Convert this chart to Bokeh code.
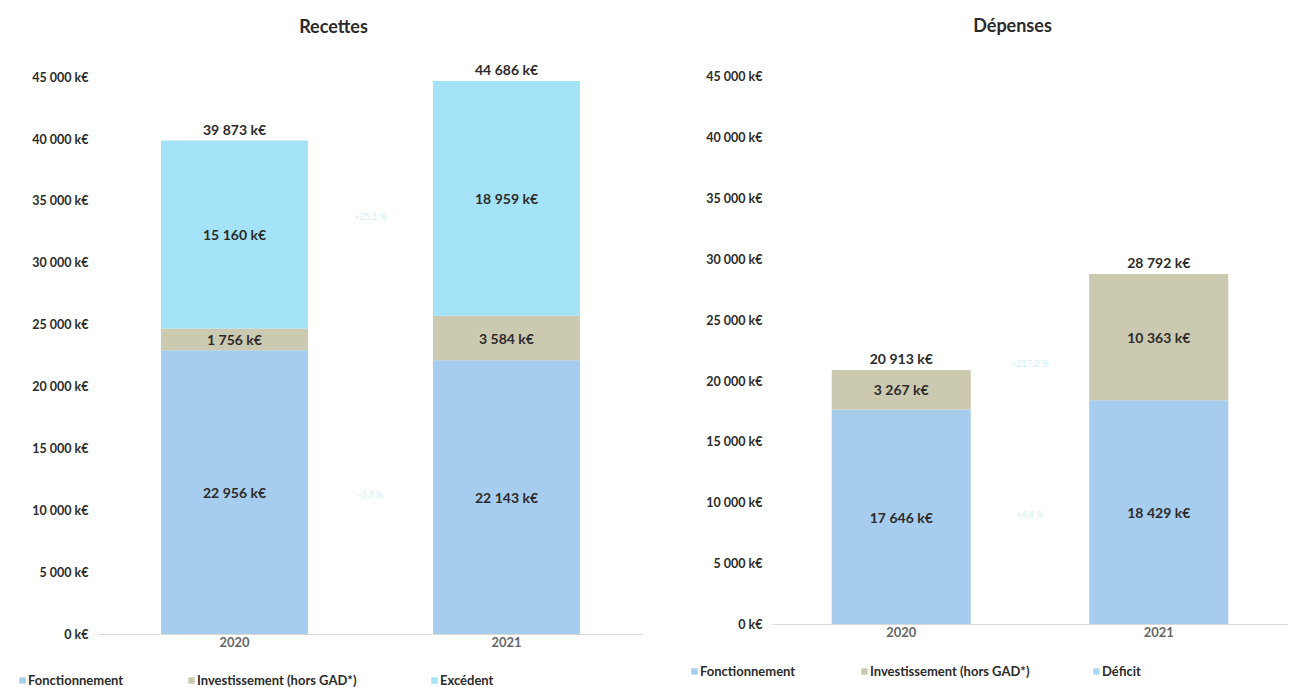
from bokeh.plotting import figure
from bokeh.models import ColumnDataSource, FixedTicker, Legend, LegendItem, Label
from bokeh.layouts import row, column
from bokeh.embed import file_html
from bokeh.resources import INLINE
from bokeh.core.properties import value
import numpy as np

years = ["2020", "2021"]

rec_fonct = [22956, 22143]
rec_invest = [1756, 3584]
rec_excedent = [15160, 18959]
rec_total = [39873, 44686]

dep_fonct = [17646, 18429]
dep_invest = [3267, 10363]
dep_deficit = [0, 0]
dep_total = [20913, 28792]

ticks = [0, 5000, 10000, 15000, 20000, 25000, 30000, 35000, 40000, 45000]

titles = ["Recettes", "Dépenses"]
rec_names = ["Fonctionnement", "Investissement (hors GAD*)", "Excédent"]
dep_names = ["Fonctionnement", "Investissement (hors GAD*)", "Déficit"]

C_FONCT = "#a6ccee"
C_INV = "#ccc9b1"
C_EXC = "#a3e2f7"
C_DEF = "#a9d8f5"
FONT = "Lato"
TXT = "#2b2b2b"


def fmt(v):
    return f"{v:,}".replace(",", " ") + " k€"


def pct(a, b):
    return ("+" if b >= a else "") + f"{(b - a) / a * 100:.1f}".replace(".", ",") + " %"


def stack_source(series):
    data = {"years": years}
    keys = []
    for i, s in enumerate(series):
        k = f"s{i}"
        data[k] = s
        keys.append(k)
    return ColumnDataSource(data), keys


def make(series, colors, totals, fw, fh, left, top, right, spacing):
    p = figure(x_range=years, y_range=(0, 46500), frame_width=fw, frame_height=fh,
               output_backend="svg", toolbar_location=None,
               min_border_left=left, min_border_top=top, min_border_bottom=0,
               min_border_right=right)
    p.x_range.range_padding = 0
    src, keys = stack_source(series)
    p.vbar_stack(keys, x="years", width=0.54, color=colors, source=src, line_width=0)

    lx, ly, lt = [], [], []
    cum = np.zeros(len(years))
    for s in series:
        arr = np.array(s, dtype=float)
        for j, y in enumerate(years):
            if arr[j] > 0:
                lx.append(y)
                ly.append(cum[j] + arr[j] / 2)
                lt.append(fmt(int(arr[j])))
        cum = cum + arr
    p.text(x=lx, y=ly, text=lt, text_align="center", text_baseline="middle",
           text_font=value(FONT), text_font_style="bold", text_font_size="14px", text_color=TXT)
    p.text(x=years, y=totals, text=[fmt(t) for t in totals], text_align="center",
           text_baseline="bottom", y_offset=-3, text_font=value(FONT), text_font_style="bold",
           text_font_size="14px", text_color=TXT)

    px, py, pt = [], [], []
    cum = np.zeros(len(years))
    for s in series:
        arr = np.array(s, dtype=float)
        if arr[0] > 3000 and arr[1] > 0:
            mids = cum + arr / 2
            px.append(years[1])
            py.append(float(mids.mean()))
            pt.append(pct(arr[0], arr[1]))
        cum = cum + arr
    p.text(x=px, y=py, text=pt, x_offset=-spacing / 2, text_align="center", text_baseline="middle",
           text_font=value(FONT), text_font_size="9px", text_color="#cdeef8")

    p.xgrid.visible = False
    p.ygrid.visible = False
    p.outline_line_color = None
    p.yaxis.ticker = FixedTicker(ticks=ticks)
    p.yaxis.major_label_overrides = {t: fmt(t) for t in ticks}
    p.yaxis.axis_line_color = None
    p.yaxis.major_tick_line_color = None
    p.yaxis.minor_tick_line_color = None
    p.yaxis.major_label_standoff = 4
    p.yaxis.major_label_text_font = FONT
    p.yaxis.major_label_text_font_style = "bold"
    p.yaxis.major_label_text_font_size = "12.5px"
    p.yaxis.major_label_text_color = TXT
    p.xaxis.axis_line_color = "#d9d9d9"
    p.xaxis.major_tick_line_color = None
    p.xaxis.minor_tick_line_color = None
    p.xaxis.major_tick_out = 0
    p.xaxis.major_tick_in = 0
    p.xaxis.major_label_standoff = 2
    p.xaxis.major_label_text_font = FONT
    p.xaxis.major_label_text_font_style = "bold"
    p.xaxis.major_label_text_font_size = "13px"
    p.xaxis.major_label_text_color = "#666666"
    return p


# title strip
tf = figure(width=1289, height=40, output_backend="svg", toolbar_location=None,
            x_range=(0, 1), y_range=(0, 1), min_border=0)
tf.axis.visible = False
tf.grid.visible = False
tf.outline_line_color = None
for t, tx, ty in zip(titles, [333, 1012], [15, 16]):
    tf.add_layout(Label(x=tx, y=ty, x_units="screen", y_units="screen", text=t,
                        text_align="center", text_baseline="middle", text_font=FONT,
                        text_font_size="18px", text_font_style="bold", text_color=TXT))

p1 = make([rec_fonct, rec_invest, rec_excedent],
          [C_FONCT, C_INV, C_EXC], rec_total, 544, 576, 98, 17, 2, 272)
p2 = make([dep_fonct, dep_invest, dep_deficit],
          [C_FONCT, C_INV, C_DEF], dep_total, 515, 566, 128, 18, 2, 257.5)

# legend strip below both charts (its renderers are hidden: only the legend keys show)
lf = figure(width=1289, height=40, output_backend="svg", toolbar_location=None,
            x_range=years, y_range=(0, 50000), min_border=0)
lf.axis.visible = False
lf.grid.visible = False
lf.outline_line_color = None
groups = [
    ([rec_fonct, rec_invest, rec_excedent], rec_names, [C_FONCT, C_INV, C_EXC], [18, 187, 430], 0),
    ([dep_fonct, dep_invest, dep_deficit], dep_names, [C_FONCT, C_INV, C_DEF], [690, 860, 1092], 9),
]
for series, names, colors, xs, y in groups:
    src, keys = stack_source(series)
    rends = lf.vbar_stack(keys, x="years", width=0.5, color=colors, source=src, line_width=0)
    for n, r, x in zip(names, rends, xs):
        r.visible = False
        leg = Legend(items=[LegendItem(label=n, renderers=[r])], location=(x, y),
                     glyph_width=8, glyph_height=8, label_standoff=2, padding=0, margin=0,
                     border_line_color=None, background_fill_alpha=0, inactive_fill_alpha=0,
                     label_text_font=FONT, label_text_font_style="bold",
                     label_text_font_size="13px", label_text_color=TXT, label_height=10)
        lf.add_layout(leg)

layout = column(tf, row(p1, p2, spacing=0), lf, spacing=0)
open("out.html", "w").write(file_html(layout, INLINE))
